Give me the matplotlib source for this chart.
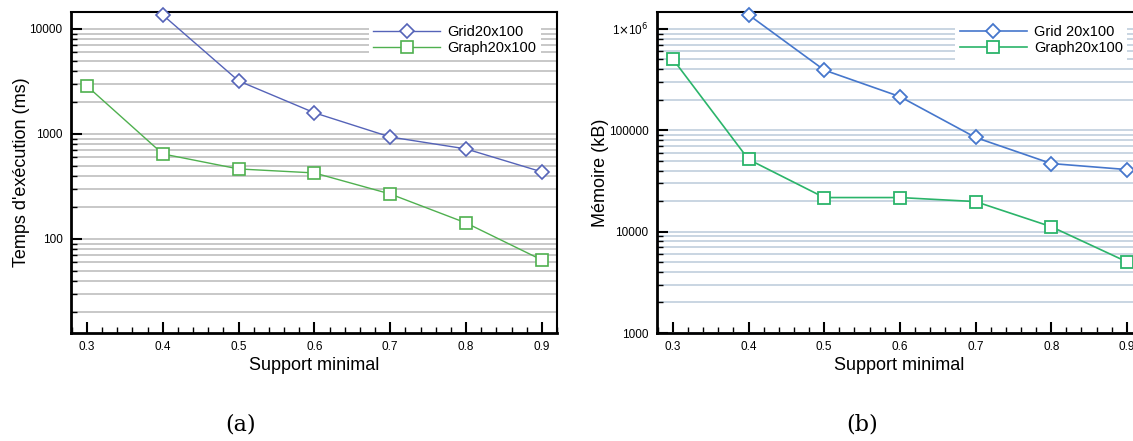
import numpy as np
import matplotlib
matplotlib.use('Agg')
import matplotlib.pyplot as plt
from matplotlib.ticker import FixedLocator, LogLocator, NullFormatter, MultipleLocator

plt.rcParams['font.family'] = ['Liberation Sans', 'DejaVu Sans']

support = [0.3, 0.4, 0.5, 0.6, 0.7, 0.8, 0.9]

# (a) temps d'execution (ms)
grid_time_x = [0.4, 0.5, 0.6, 0.7, 0.8, 0.9]
grid_time = [13600, 3200, 1590, 935, 720, 435]
graph_time = [2860, 645, 464, 425, 268, 142, 63]

# (b) memoire (kB)
grid_mem_x = [0.4, 0.5, 0.6, 0.7, 0.8, 0.9]
grid_mem = [1380000, 393000, 215000, 85000, 47000, 41000]
graph_mem = [504000, 51600, 21700, 21700, 19800, 11200, 5040]

W, H = 1133, 441
fig = plt.figure(figsize=(W / 100, H / 100), dpi=100)


def px_axes(x0, y0, x1, y1):
    return fig.add_axes([x0 / W, 1 - y1 / H, (x1 - x0) / W, (y1 - y0) / H])


def style(ax, grid_color):
    ax.set_yscale('log')
    ax.set_xlim(0.279, 0.92)
    ax.xaxis.set_major_locator(FixedLocator(support))
    ax.xaxis.set_minor_locator(MultipleLocator(0.02))
    ax.yaxis.set_minor_locator(LogLocator(base=10, subs=np.arange(2, 10)))
    ax.yaxis.set_minor_formatter(NullFormatter())
    ax.tick_params(which='major', direction='in', length=8, width=1.5, labelsize=8.5, pad=6)
    ax.tick_params(which='minor', direction='in', length=4, width=1)
    ax.tick_params(axis='y', which='both', right=False)
    ax.tick_params(axis='x', which='both', top=False)
    for s in ax.spines.values():
        s.set_linewidth(1.5)
    ax.spines['left'].set_linewidth(2)
    ax.spines['bottom'].set_linewidth(2)
    ax.grid(True, which='both', axis='y', color=grid_color, linewidth=1.4)
    ax.set_axisbelow(True)
    ax.set_xlabel('Support minimal', fontsize=13, labelpad=3)


def add_legend(ax, anchor):
    ax.legend(loc='upper right', fontsize=10.5, handlelength=4.6, handletextpad=0.5,
              frameon=True, framealpha=1, edgecolor='none', borderpad=0.3,
              labelspacing=0.15, bbox_to_anchor=anchor, fancybox=False)


# ---- (a)
ax1 = px_axes(71, 12, 557, 333)
ax1.plot(grid_time_x, grid_time, color='#5563b8', lw=1, marker='D', ms=7.5,
         mfc='white', mec='#5563b8', mew=1.2, label='Grid20x100', clip_on=False, zorder=3)
ax1.plot(support, graph_time, color='#4fb04f', lw=1, marker='s', ms=8,
         mfc='white', mec='#4fb04f', mew=1.2, label='Graph20x100', clip_on=False, zorder=3)
style(ax1, '#c8c8c8')
ax1.set_ylim(12.7, 14500)
ax1.yaxis.set_major_locator(FixedLocator([100, 1000, 10000]))
ax1.set_yticklabels(['100', '1000', '10000'])
ax1.set_ylabel("Temps d'exécution (ms)", fontsize=13, labelpad=0)
add_legend(ax1, (0.982, 0.995))

# ---- (b)
ax2 = px_axes(657, 12, 1142, 333)
ax2.plot(grid_mem_x, grid_mem, color='#4677cc', lw=1.2, marker='D', ms=7.5,
         mfc='white', mec='#4677cc', mew=1.3, label='Grid 20x100', clip_on=False, zorder=3)
ax2.plot(support, graph_mem, color='#2bb46a', lw=1.2, marker='s', ms=8,
         mfc='white', mec='#2bb46a', mew=1.3, label='Graph20x100', clip_on=False, zorder=3)
style(ax2, '#c9d5e2')
ax2.set_ylim(1000, 1470000)
ax2.yaxis.set_major_locator(FixedLocator([1000, 10000, 100000, 1000000]))
ax2.set_yticklabels(['1000', '10000', '100000', r'1$\times$10$^6$'])
ax2.set_ylabel('Mémoire (kB)', fontsize=13, labelpad=0)
add_legend(ax2, (0.985, 0.995))

fig.text(241 / W, 1 - 424 / H, '(a)', fontsize=16, family='DejaVu Serif', ha='center', va='center')
fig.text(862 / W, 1 - 424 / H, '(b)', fontsize=16, family='DejaVu Serif', ha='center', va='center')

fig.savefig('out.png', dpi=100)
